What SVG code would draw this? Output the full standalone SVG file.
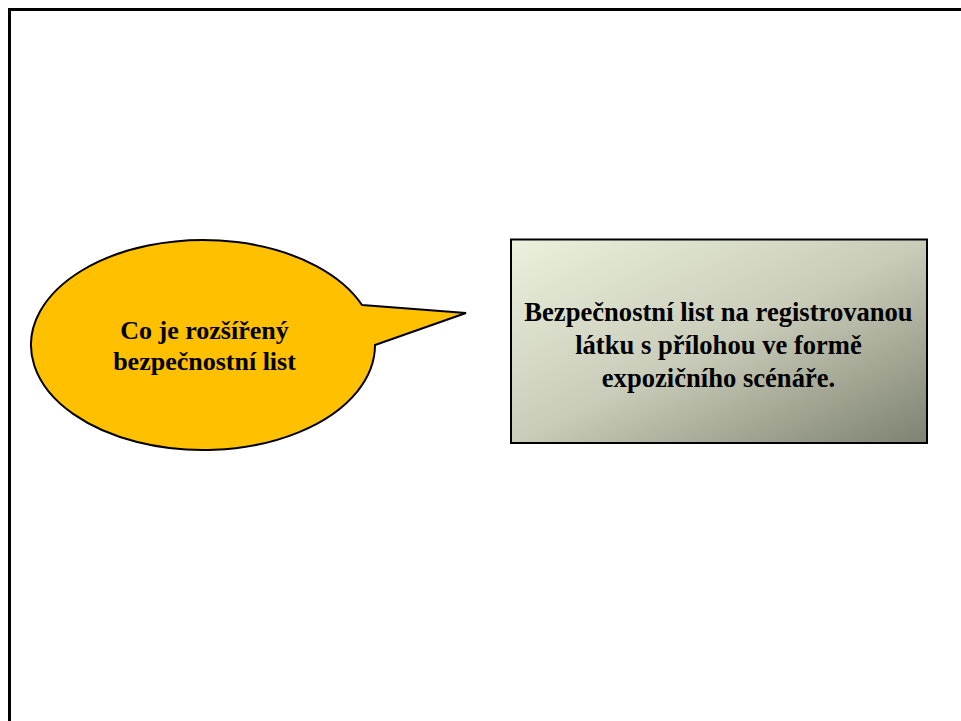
<svg xmlns="http://www.w3.org/2000/svg" width="961" height="721" viewBox="0 0 961 721">
  <defs>
    <linearGradient id="boxGrad" x1="0" y1="0" x2="1" y2="1">
      <stop offset="0" stop-color="#ebf1dd"/>
      <stop offset="0.5" stop-color="#c9ccb9"/>
      <stop offset="1" stop-color="#7e8270"/>
    </linearGradient>
    <style>
      .lbl { font-family: "Liberation Serif", "Times New Roman", serif; font-weight: bold; font-size: 26px; fill: #000; text-anchor: middle; }
      .big { font-size: 26.6px; }
    </style>
  </defs>
  <rect x="0" y="0" width="961" height="721" fill="#fff"/>
  <rect id="frame" x="9.5" y="9.5" width="1000" height="800" fill="none" stroke="#000" stroke-width="3"/>
  <g id="bubble">
    <path d="M362,305 L466,313 L375,345 A172,105 0 1 1 362,305 Z" fill="#ffc000" stroke="#000" stroke-width="2" stroke-linejoin="miter"/>
    <text class="lbl" x="204.5" y="339">Co je rozšířený</text>
    <text class="lbl" x="204.5" y="370">bezpečnostní list</text>
  </g>
  <g id="box">
    <rect x="511" y="239.5" width="416" height="203.5" fill="url(#boxGrad)" stroke="#000" stroke-width="2"/>
    <text class="lbl big" x="718.5" y="321">Bezpečnostní list na registrovanou</text>
    <text class="lbl big" x="718.5" y="354">látku s přílohou ve formě</text>
    <text class="lbl big" x="718.5" y="387">expozičního scénáře.</text>
  </g>
  <g id="connectors"/>
</svg>
